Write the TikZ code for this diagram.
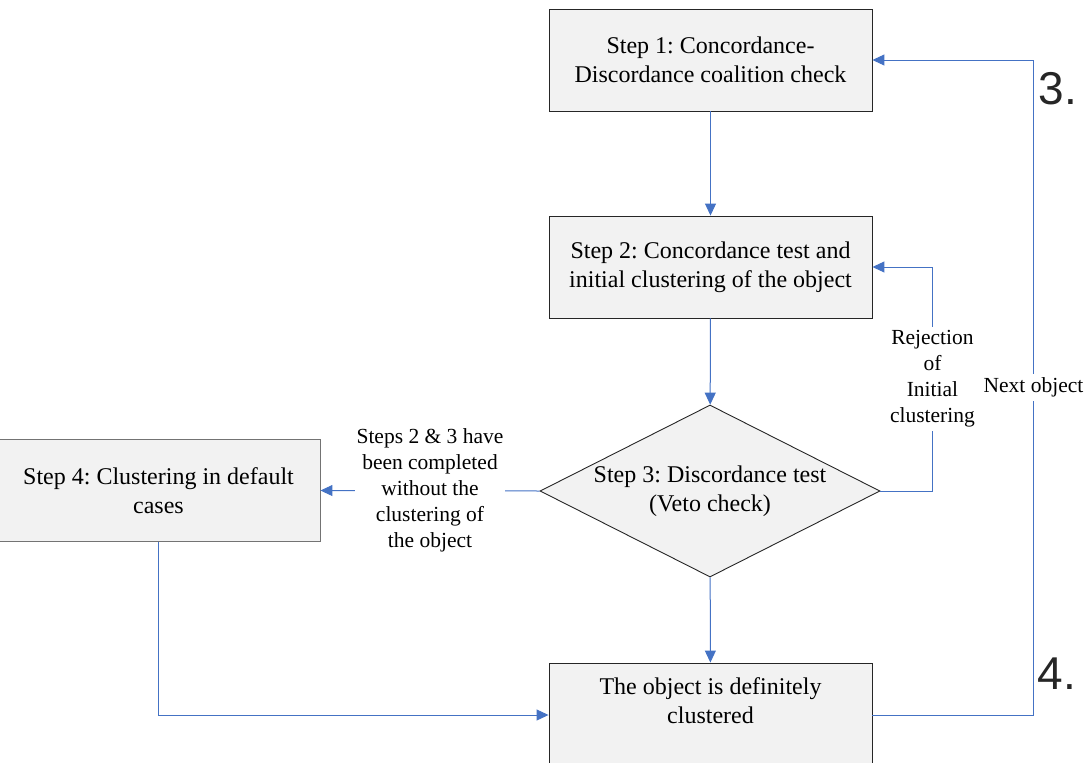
\documentclass[tikz,border=0pt]{standalone}
\usepackage{fontspec}
\setmainfont{Liberation Serif}
\newfontfamily\numfont{Liberation Sans}
\usetikzlibrary{shapes.geometric,arrows.meta}
\definecolor{boxfill}{HTML}{F2F2F2}
\definecolor{linkblue}{HTML}{4472C4}
\definecolor{numgray}{HTML}{262626}
\frenchspacing
\begin{document}
\begin{tikzpicture}[x=1pt,y=-1pt,
  stepbox/.style={draw=black!85,line width=0.9pt,fill=boxfill,minimum width=323pt,minimum height=102pt,align=center,inner sep=0pt,font=\fontsize{24}{29}\selectfont},
  decision/.style={diamond,draw=black!85,line width=0.9pt,fill=boxfill,minimum width=340pt,minimum height=172pt,aspect=1.98,inner sep=0pt,align=center,font=\fontsize{24}{29}\selectfont},
  link/.style={draw=linkblue,line width=1pt,-{Triangle[length=12pt,width=11pt]}},
  lbl/.style={fill=white,align=center,font=\fontsize{21.5}{26}\selectfont,inner xsep=2pt,inner ysep=4pt},
  bignum/.style={font=\numfont\fontsize{46}{46}\selectfont,text=numgray,inner sep=0pt}
]
\useasboundingbox (0,0) rectangle (1087,763);
\node[stepbox] (s1) at (710.5,60) {Step 1: Concordance-\\Discordance coalition check};
\node[stepbox] (s2) at (710.5,267) {Step 2: Concordance test and\\initial clustering of the object};
\node[decision] (s3) at (710,491) {Step 3: Discordance test\\(Veto check)};
\node[stepbox,draw=black!55] (s4) at (158.5,490.5) {Step 4: Clustering in default\\cases};
\node[stepbox,minimum height=104pt] (s5) at (710.5,715) {The object is definitely\\clustered\\\mbox{}};
\draw[link] (s1) -- (s2);
\draw[link] (s2) -- (s3);
\draw[link] (s3) -- (s5);
\draw[link] (s3.west) -- node[lbl]{Steps 2 \& 3 have\\been completed\\without the\\clustering of\\the object} (s4.east);
\draw[link] (s3.east) -- ++(52,0) |- node[lbl,pos=0.25]{Rejection\\of\\Initial\\clustering} (s2.east);
\draw[link] (s5.east) -- ++(161,0) |- node[lbl,pos=0.25]{Next object} (s1.east);
\draw[link] (s4.south) |- (s5.west);
\node[bignum] (n3) at (1058,89) {3.};
\node[bignum] (n4) at (1057,674) {4.};
\end{tikzpicture}
\end{document}
